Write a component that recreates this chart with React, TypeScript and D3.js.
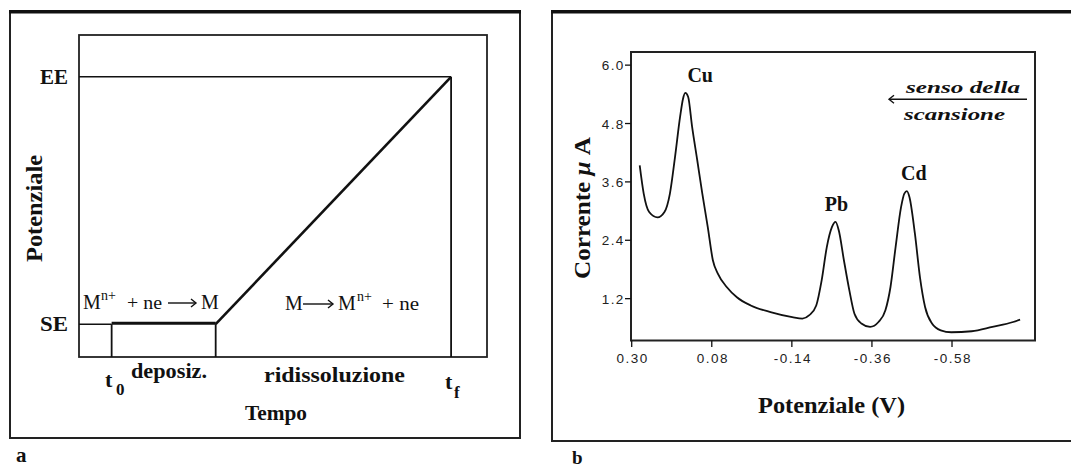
import React from "react";
import * as d3 from "d3";

// panel a: schematic of stripping voltammetry (arbitrary units)
const timeMarks = [8, 33.5, 91.2]; // t0, end of deposition, tf
const timeLabels = ["t", "t"];
const timeSubs = ["0", "f"];
const potentialLevels = [10.2, 87]; // SE, EE
const levelLabels = ["SE", "EE"];

// panel b: stripping voltammogram
const potenziale = [
  0.278, 0.267, 0.252, 0.229, 0.21, 0.195, 0.181, 0.167, 0.159, 0.153, 0.145,
  0.134, 0.12, 0.106, 0.091, 0.077, 0.063, 0.039, 0.011, -0.027, -0.084,
  -0.141, -0.169, -0.188, -0.207, -0.222, -0.236, -0.25, -0.26, -0.269,
  -0.283, -0.298, -0.312, -0.331, -0.355, -0.378, -0.397, -0.411, -0.425,
  -0.44, -0.449, -0.456, -0.463, -0.478, -0.492, -0.506, -0.525, -0.549,
  -0.578, -0.634, -0.691, -0.748, -0.767,
];
const corrente = [
  3.94, 3.36, 2.98, 2.87, 2.98, 3.36, 4.11, 4.94, 5.31, 5.43, 5.35, 4.73,
  4.05, 3.36, 2.67, 1.99, 1.71, 1.44, 1.23, 1.06, 0.92, 0.82, 0.79, 0.86,
  1.06, 1.58, 2.26, 2.67, 2.78, 2.6, 1.99, 1.37, 0.89, 0.69, 0.62, 0.72,
  0.96, 1.44, 2.26, 3.08, 3.36, 3.41, 3.29, 2.54, 1.64, 1.03, 0.69, 0.55,
  0.51, 0.53, 0.62, 0.72, 0.77,
];
const tickX = [0.3, 0.08, -0.14, -0.36, -0.58];
const tickXLabels = ["0.30", "0.08", "-0.14", "-0.36", "-0.58"];
const tickY = [1.2, 2.4, 3.6, 4.8, 6.0];
const tickYLabels = ["1.2", "2.4", "3.6", "4.8", "6.0"];
const peakNames = ["Cu", "Pb", "Cd"];
const peakV = [0.153, -0.26, -0.456];
const peakI = [5.43, 2.78, 3.41];

const ink = "#111";
const serif = "'Liberation Serif', 'Times New Roman', serif";
const sans = "'Liberation Sans', Arial, sans-serif";

const Arrow = ({ x1, x2, y, left = false }) => {
  const hx = left ? x1 : x2;
  const s = left ? 1 : -1;
  return (
    <g stroke={ink} fill="none">
      <line x1={x1} x2={x2} y1={y} y2={y} strokeWidth={1.4} />
      <path d={`M${hx + s * 5},${y - 4} L${hx},${y} L${hx + s * 5},${y + 4}`} strokeWidth={1.4} />
    </g>
  );
};

const PanelA = () => {
  const x = d3.scaleLinear().domain([0, 100]).range([79, 487]);
  const y = d3.scaleLinear().domain([0, 100]).range([357, 35]);
  const [t0, tDep, tf] = timeMarks.map(x);
  const [se, ee] = potentialLevels.map(y);
  const ramp = d3.line()([[tDep, se], [tf, ee]]);

  return (
    <g>
      <rect x={10} y={11.7} width={510} height={426.3} fill="none" stroke="#222" strokeWidth={2} />
      <line x1={9} x2={521} y1={11.7} y2={11.7} stroke={ink} strokeWidth={3.5} />
      <rect x={x(0)} y={y(100)} width={x(100) - x(0)} height={y(0) - y(100)} fill="none" stroke="#222" strokeWidth={1.8} />

      <line x1={x(0)} x2={tf} y1={ee} y2={ee} stroke={ink} strokeWidth={1.5} />
      <line x1={tf} x2={tf} y1={ee} y2={y(0)} stroke={ink} strokeWidth={1.8} />
      <line x1={x(0)} x2={t0} y1={se} y2={se} stroke={ink} strokeWidth={1.5} />
      <line x1={t0} x2={tDep} y1={se - 0.8} y2={se - 0.8} stroke={ink} strokeWidth={3} />
      <line x1={t0} x2={t0} y1={se} y2={y(0)} stroke={ink} strokeWidth={1.8} />
      <line x1={tDep} x2={tDep} y1={se} y2={y(0)} stroke={ink} strokeWidth={1.8} />
      <path d={ramp} stroke={ink} strokeWidth={2.6} fill="none" />

      {levelLabels.map((l, i) => (
        <text key={l} x={68} y={potentialLevels.map(y)[i] + 7} textAnchor="end" fontFamily={serif} fontWeight="bold" fontSize={22} textLength={28} lengthAdjust="spacingAndGlyphs" fill={ink}>
          {l}
        </text>
      ))}

      <text transform="translate(42,208.5) rotate(-90)" textAnchor="middle" fontFamily={serif} fontWeight="bold" fontSize={24} textLength={107} lengthAdjust="spacingAndGlyphs" fill={ink}>
        Potenziale
      </text>

      {/* reactions */}
      <g fontFamily={serif} fill={ink}>
        <text x={83} y={309} fontSize={20}>M</text>
        <text x={101} y={300} fontSize={14}>n+</text>
        <text x={127} y={309} fontSize={18} textLength={35} lengthAdjust="spacingAndGlyphs">+ ne</text>
        <text x={201} y={309} fontSize={20}>M</text>
        <text x={285} y={310} fontSize={20}>M</text>
        <text x={338} y={310} fontSize={20}>M</text>
        <text x={357} y={301} fontSize={14}>n+</text>
        <text x={382} y={310} fontSize={18} textLength={37} lengthAdjust="spacingAndGlyphs">+ ne</text>
      </g>
      <Arrow x1={168} x2={196} y={303} />
      <Arrow x1={303} x2={333} y={304} />

      {/* time labels */}
      <g fontFamily={serif} fontWeight="bold" fill={ink}>
        <text x={105} y={387} fontSize={22}>{timeLabels[0]}</text>
        <text x={116} y={395} fontSize={17}>{timeSubs[0]}</text>
        <text x={445} y={389} fontSize={22}>{timeLabels[1]}</text>
        <text x={454} y={398} fontSize={17}>{timeSubs[1]}</text>
        <text x={131} y={378} fontSize={20} textLength={76} lengthAdjust="spacingAndGlyphs">deposiz.</text>
        <text x={264} y={382} fontSize={20} textLength={141} lengthAdjust="spacingAndGlyphs">ridissoluzione</text>
        <text x={245} y={420} fontSize={22} textLength={62} lengthAdjust="spacingAndGlyphs">Tempo</text>
        <text x={16} y={462} fontSize={21}>a</text>
      </g>
    </g>
  );
};

const PanelB = () => {
  const x = d3.scaleLinear().domain([0.3, -0.808]).range([631.7, 1035]);
  const y = d3.scaleLinear().domain([0.34, 6.27]).range([340.5, 52]);
  const pts = potenziale.map((v, i) => [x(v), y(corrente[i])]);
  const line = d3.line().curve(d3.curveMonotoneX)(pts);
  const labelShift = [15, 1, 7];

  return (
    <g>
      <rect x={552} y={11.7} width={522} height={429.3} fill="none" stroke="#222" strokeWidth={2} />
      <line x1={551} x2={1075} y1={11.7} y2={11.7} stroke={ink} strokeWidth={3.5} />
      <rect x={631} y={52} width={404} height={288.5} fill="none" stroke="#222" strokeWidth={2} />

      {tickY.map((t, i) => (
        <g key={t}>
          <line x1={625} x2={631} y1={y(t)} y2={y(t)} stroke={ink} strokeWidth={1.3} />
          <text x={624.5} y={y(t) + 5} textAnchor="end" fontFamily={sans} fontSize={13.5} letterSpacing={1.3} fill="#222">
            {tickYLabels[i]}
          </text>
        </g>
      ))}
      {tickX.map((t, i) => (
        <g key={t}>
          <line x1={x(t)} x2={x(t)} y1={340.5} y2={347} stroke={ink} strokeWidth={1.3} />
          <text x={x(t) + 1} y={363} textAnchor="middle" fontFamily={sans} fontSize={13.5} letterSpacing={1.5} fill="#222">
            {tickXLabels[i]}
          </text>
        </g>
      ))}

      <path d={line} fill="none" stroke={ink} strokeWidth={1.8} />

      {peakNames.map((n, i) => (
        <text key={n} x={x(peakV[i]) + labelShift[i]} y={y(peakI[i]) - 11} textAnchor="middle" fontFamily={serif} fontWeight="bold" fontSize={20} fill={ink}>
          {n}
        </text>
      ))}

      <g fontFamily={serif} fontWeight="bold" fill={ink}>
        <text x={906} y={93} fontSize={17} fontStyle="italic" textLength={114} lengthAdjust="spacingAndGlyphs">senso della</text>
        <text x={904} y={120} fontSize={17} fontStyle="italic" textLength={101} lengthAdjust="spacingAndGlyphs">scansione</text>
        <text x={831.5} y={413} textAnchor="middle" fontSize={24} textLength={147} lengthAdjust="spacingAndGlyphs">Potenziale (V)</text>
        <text transform="translate(590,208) rotate(-90)" textAnchor="middle" fontSize={24} textLength={142} lengthAdjust="spacingAndGlyphs">
          Corrente <tspan fontStyle="italic">μ</tspan> A
        </text>
        <text x={572} y={464} fontSize={19}>b</text>
      </g>
      <Arrow x1={889} x2={1027} y={99.3} left />
    </g>
  );
};

const App = () => (
  <svg width={1071} height={469} style={{ position: "absolute", left: 0, top: 0, background: "#fff" }}>
    <PanelA />
    <PanelB />
  </svg>
);

export default App;
